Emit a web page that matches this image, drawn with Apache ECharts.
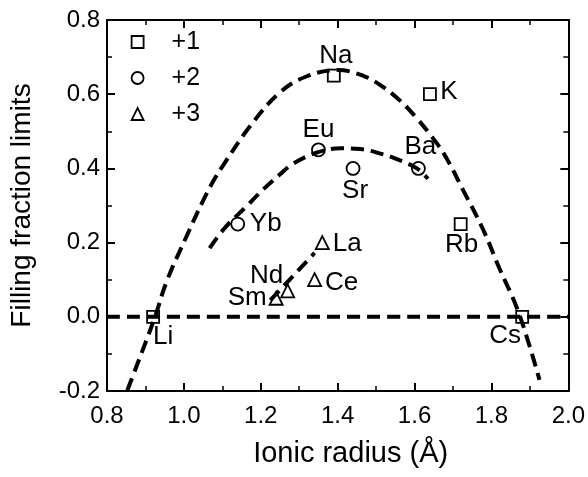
<!DOCTYPE html>
<html><head><meta charset="utf-8">
<script src="https://cdn.jsdelivr.net/npm/echarts@6/dist/echarts.min.js"></script>
<style>html,body{margin:0;padding:0;background:#fff}#c{width:588px;height:477px}</style>
</head><body><div id="c"></div>
<script>
// ---- data ----
const xTicks = [0.8, 1.0, 1.2, 1.4, 1.6, 1.8, 2.0];
const yTicks = [-0.2, 0.0, 0.2, 0.4, 0.6, 0.8];
const seriesNames = ['+1', '+2', '+3'];
const names1 = ['Li', 'Na', 'K', 'Rb', 'Cs'];
const x1 = [0.92, 1.39, 1.64, 1.72, 1.88];
const y1 = [0.0, 0.65, 0.60, 0.25, 0.0];
const names2 = ['Yb', 'Eu', 'Sr', 'Ba'];
const x2 = [1.14, 1.35, 1.44, 1.61];
const y2 = [0.25, 0.45, 0.40, 0.40];
const names3 = ['Sm', 'Nd', 'Ce', 'La'];
const x3 = [1.24, 1.27, 1.34, 1.36];
const y3 = [0.05, 0.07, 0.10, 0.20];
// dashed guide curves
const outerX = [0.853, 0.878, 0.925, 0.955, 1.007, 1.05, 1.08, 1.10, 1.171, 1.248, 1.317, 1.40, 1.468, 1.52, 1.563, 1.606, 1.640, 1.679, 1.727, 1.778, 1.821, 1.865, 1.899, 1.925];
const outerY = [-0.198, -0.13, 0.0, 0.095, 0.217, 0.313, 0.372, 0.405, 0.512, 0.603, 0.647, 0.665, 0.649, 0.618, 0.582, 0.535, 0.492, 0.435, 0.340, 0.236, 0.130, 0.027, -0.078, -0.170];
const innerX = [1.067, 1.106, 1.162, 1.205, 1.248, 1.283, 1.347, 1.408, 1.459, 1.511, 1.554, 1.606, 1.635];
const innerY = [0.185, 0.239, 0.297, 0.342, 0.382, 0.412, 0.443, 0.454, 0.452, 0.440, 0.425, 0.400, 0.372];
const trendX = [1.225, 1.34];
const trendY = [0.045, 0.172];
const zeroX = [0.8, 2.0];
const zeroY = [0.0, 0.0];

// ---- label placement (style) ----
const labelOffset = {
  Li: [10, 20], Na: [2, -20], K: [19, -2], Rb: [1, 21], Cs: [-17, 19],
  Eu: [0, -20], Sr: [2, 22], Ba: [2, -22], Yb: [28, 0],
  La: [25, 1], Ce: [27, 3], Nd: [-21, -15], Sm: [-29, 0]
};

const FONT = '"Liberation Sans", Arial, Helvetica, sans-serif';
const zip = (a, b) => a.map((v, i) => [v, b[i]]);
const pts = (names, xs, ys) => names.map((n, i) => ({
  name: n, value: [xs[i], ys[i]],
  label: { offset: labelOffset[n] }
}));

function scatter(name, symbol, size, data) {
  return {
    name, type: 'scatter', symbol, symbolSize: size, data, z: 3,
    itemStyle: { color: 'rgba(255,255,255,0)', borderColor: '#000', borderWidth: 1.8, opacity: 1 },
    label: {
      show: true, position: 'inside', formatter: p => p.name,
      color: '#000', fontSize: 26, fontFamily: FONT,
      textBorderWidth: 0, textBorderColor: 'transparent', textShadowBlur: 0
    },
    emphasis: { disabled: true }
  };
}
function dashed(xs, ys) {
  return {
    type: 'line', data: zip(xs, ys), showSymbol: false, symbol: 'none',
    smooth: 0.4, z: 4, silent: true,
    lineStyle: { color: '#000', width: 4, type: [13, 7] }
  };
}

const axisCommon = {
  type: 'value',
  axisLine: { show: true, onZero: false, lineStyle: { color: '#000', width: 2 } },
  axisTick: { show: true, inside: true, length: 8, lineStyle: { color: '#000', width: 2 } },
  minorTick: { show: true, splitNumber: 2, length: 5, lineStyle: { color: '#000', width: 1.5 } },
  splitLine: { show: false }
};

const chart = echarts.init(document.getElementById('c'));
chart.setOption({
  animation: false,
  backgroundColor: '#fff',
  grid: { left: 105, right: 19, top: 20, bottom: 86 },
  legend: {
    data: seriesNames, orient: 'vertical', left: 125.7, top: 24.5,
    itemWidth: 12, itemHeight: 12, itemGap: 11,
    itemStyle: { color: 'rgba(255,255,255,0)', borderColor: '#000', borderWidth: 1.8, opacity: 1 },
    textStyle: { fontSize: 25, fontFamily: FONT, color: '#000', lineHeight: 25, padding: [0, 0, 0, 23] },
    selectedMode: false
  },
  xAxis: [
    Object.assign({}, axisCommon, {
      min: xTicks[0], max: xTicks[xTicks.length - 1], interval: 0.2, position: 'bottom',
      axisLabel: { fontSize: 24, fontFamily: FONT, color: '#000', margin: 13, formatter: v => v.toFixed(1) },
      name: 'Ionic radius (Å)', nameLocation: 'middle', nameGap: 48,
      nameTextStyle: { fontSize: 29, fontFamily: FONT, color: '#000', padding: [0, 0, 0, 26] }
    }),
    Object.assign({}, axisCommon, {
      min: xTicks[0], max: xTicks[xTicks.length - 1], interval: 0.2, position: 'top',
      axisLabel: { show: false }
    })
  ],
  yAxis: [
    Object.assign({}, axisCommon, {
      min: yTicks[0], max: yTicks[yTicks.length - 1], interval: 0.2, position: 'left',
      axisLabel: { fontSize: 24, fontFamily: FONT, color: '#000', margin: 7, formatter: v => v.toFixed(1) },
      name: 'Filling fraction limits', nameLocation: 'middle', nameGap: 71,
      nameTextStyle: { fontSize: 28, fontFamily: FONT, color: '#000' }
    }),
    Object.assign({}, axisCommon, {
      min: yTicks[0], max: yTicks[yTicks.length - 1], interval: 0.2, position: 'right',
      axisLabel: { show: false }
    })
  ],
  series: [
    scatter(seriesNames[0], 'rect', 12, pts(names1, x1, y1)),
    scatter(seriesNames[1], 'circle', 13, pts(names2, x2, y2)),
    scatter(seriesNames[2], 'triangle', 13, pts(names3, x3, y3)),
    dashed(zeroX, zeroY),
    dashed(outerX, outerY),
    dashed(innerX, innerY),
    dashed(trendX, trendY)
  ]
});
</script></body></html>
